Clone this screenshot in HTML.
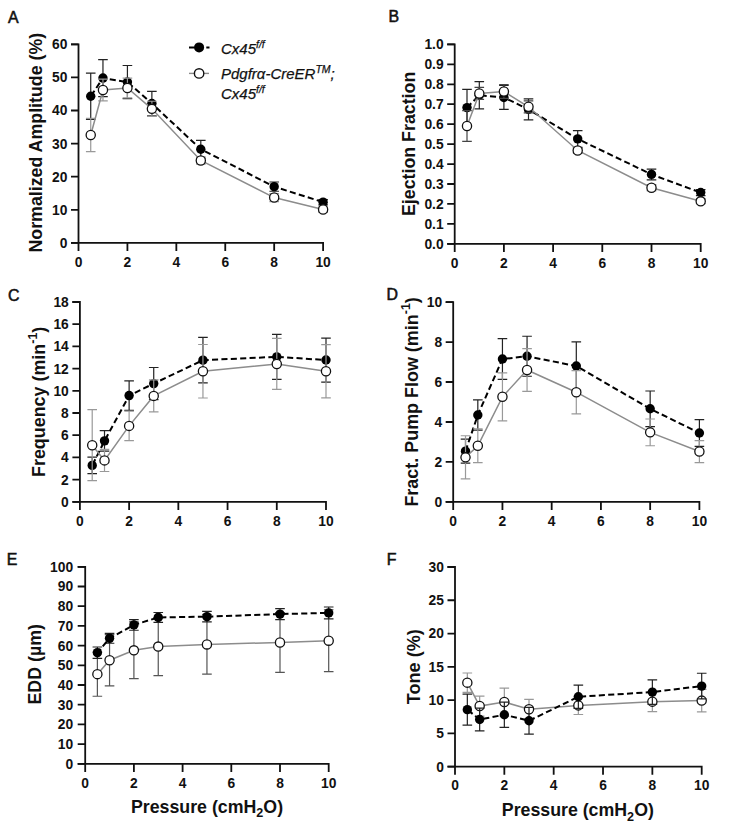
<!DOCTYPE html><html><head><meta charset="utf-8"><style>html,body{margin:0;padding:0;background:#fff;}svg{display:block;}text{font-family:"Liberation Sans", sans-serif;}</style></head><body>
<svg width="748" height="839" viewBox="0 0 748 839">
<rect width="748" height="839" fill="#fff"/>
<path d="M71.00,44.30H78.50V251.10M71.00,242.90H323.10V251.10" fill="none" stroke="#111" stroke-width="1.8" stroke-linejoin="miter"/>
<path d="M71.00,242.90H78.50M71.00,209.80H78.50M71.00,176.70H78.50M71.00,143.60H78.50M71.00,110.50H78.50M71.00,77.40H78.50M71.00,44.30H78.50M127.42,242.90V251.10M176.34,242.90V251.10M225.26,242.90V251.10M274.18,242.90V251.10" fill="none" stroke="#111" stroke-width="1.8"/>
<text x="67.40" y="247.80" text-anchor="end" font-size="13.8" font-weight="bold" fill="#111">0</text>
<text x="67.40" y="214.70" text-anchor="end" font-size="13.8" font-weight="bold" fill="#111">10</text>
<text x="67.40" y="181.60" text-anchor="end" font-size="13.8" font-weight="bold" fill="#111">20</text>
<text x="67.40" y="148.50" text-anchor="end" font-size="13.8" font-weight="bold" fill="#111">30</text>
<text x="67.40" y="115.40" text-anchor="end" font-size="13.8" font-weight="bold" fill="#111">40</text>
<text x="67.40" y="82.30" text-anchor="end" font-size="13.8" font-weight="bold" fill="#111">50</text>
<text x="67.40" y="49.20" text-anchor="end" font-size="13.8" font-weight="bold" fill="#111">60</text>
<text x="78.50" y="266.60" text-anchor="middle" font-size="13.8" font-weight="bold" fill="#111">0</text>
<text x="127.42" y="266.60" text-anchor="middle" font-size="13.8" font-weight="bold" fill="#111">2</text>
<text x="176.34" y="266.60" text-anchor="middle" font-size="13.8" font-weight="bold" fill="#111">4</text>
<text x="225.26" y="266.60" text-anchor="middle" font-size="13.8" font-weight="bold" fill="#111">6</text>
<text x="274.18" y="266.60" text-anchor="middle" font-size="13.8" font-weight="bold" fill="#111">8</text>
<text x="323.10" y="266.60" text-anchor="middle" font-size="13.8" font-weight="bold" fill="#111">10</text>
<path d="M90.73,73.10V119.44M85.93,73.10H95.53M85.93,119.44H95.53M102.96,59.53V96.60M98.16,59.53H107.76M98.16,96.60H107.76M127.42,65.48V98.58M122.62,65.48H132.22M122.62,98.58H132.22M151.88,91.30V115.80M147.08,91.30H156.68M147.08,115.80H156.68M200.80,140.29V158.16M196.00,140.29H205.60M196.00,158.16H205.60M274.18,182.00V191.26M269.38,182.00H278.98M269.38,191.26H278.98M323.10,199.54V204.84M318.30,199.54H327.90M318.30,204.84H327.90" fill="none" stroke="#222" stroke-width="1.2"/>
<path d="M90.73,96.27 L102.96,78.06 L127.42,82.03 L151.88,103.55 L200.80,149.23 L274.18,186.63 L323.10,202.19" stroke="#000" stroke-width="2" stroke-dasharray="6.1 3.30" stroke-dashoffset="8.78" fill="none"/>
<circle cx="90.73" cy="96.27" r="4.7" fill="#000"/>
<circle cx="102.96" cy="78.06" r="4.7" fill="#000"/>
<circle cx="127.42" cy="82.03" r="4.7" fill="#000"/>
<circle cx="151.88" cy="103.55" r="4.7" fill="#000"/>
<circle cx="200.80" cy="149.23" r="4.7" fill="#000"/>
<circle cx="274.18" cy="186.63" r="4.7" fill="#000"/>
<circle cx="323.10" cy="202.19" r="4.7" fill="#000"/>
<path d="M90.73,118.44V151.54M85.93,118.44H95.53M85.93,151.54H95.53M102.96,79.06V100.90M98.16,79.06H107.76M98.16,100.90H107.76M127.42,78.06V97.92M122.62,78.06H132.22M122.62,97.92H132.22M151.88,101.23V116.46M147.08,101.23H156.68M147.08,116.46H156.68M200.80,156.84V164.12M196.00,156.84H205.60M196.00,164.12H205.60M274.18,193.58V201.53M269.38,193.58H278.98M269.38,201.53H278.98M323.10,206.82V212.12M318.30,206.82H327.90M318.30,212.12H327.90" fill="none" stroke="#999" stroke-width="1.2"/>
<polyline points="90.73,134.99 102.96,89.98 127.42,87.99 151.88,108.84 200.80,160.48 274.18,197.55 323.10,209.47" fill="none" stroke="#8c8c8c" stroke-width="1.5"/>
<circle cx="90.73" cy="134.99" r="4.6" fill="#fff" stroke="#111" stroke-width="1.3"/>
<circle cx="102.96" cy="89.98" r="4.6" fill="#fff" stroke="#111" stroke-width="1.3"/>
<circle cx="127.42" cy="87.99" r="4.6" fill="#fff" stroke="#111" stroke-width="1.3"/>
<circle cx="151.88" cy="108.84" r="4.6" fill="#fff" stroke="#111" stroke-width="1.3"/>
<circle cx="200.80" cy="160.48" r="4.6" fill="#fff" stroke="#111" stroke-width="1.3"/>
<circle cx="274.18" cy="197.55" r="4.6" fill="#fff" stroke="#111" stroke-width="1.3"/>
<circle cx="323.10" cy="209.47" r="4.6" fill="#fff" stroke="#111" stroke-width="1.3"/>
<path d="M447.20,44.40H454.70V252.00M447.20,243.80H700.70V252.00" fill="none" stroke="#111" stroke-width="1.8" stroke-linejoin="miter"/>
<path d="M447.20,243.80H454.70M447.20,223.86H454.70M447.20,203.92H454.70M447.20,183.98H454.70M447.20,164.04H454.70M447.20,144.10H454.70M447.20,124.16H454.70M447.20,104.22H454.70M447.20,84.28H454.70M447.20,64.34H454.70M447.20,44.40H454.70M503.90,243.80V252.00M553.10,243.80V252.00M602.30,243.80V252.00M651.50,243.80V252.00" fill="none" stroke="#111" stroke-width="1.8"/>
<text x="443.60" y="248.70" text-anchor="end" font-size="13.8" font-weight="bold" fill="#111">0.0</text>
<text x="443.60" y="228.76" text-anchor="end" font-size="13.8" font-weight="bold" fill="#111">0.1</text>
<text x="443.60" y="208.82" text-anchor="end" font-size="13.8" font-weight="bold" fill="#111">0.2</text>
<text x="443.60" y="188.88" text-anchor="end" font-size="13.8" font-weight="bold" fill="#111">0.3</text>
<text x="443.60" y="168.94" text-anchor="end" font-size="13.8" font-weight="bold" fill="#111">0.4</text>
<text x="443.60" y="149.00" text-anchor="end" font-size="13.8" font-weight="bold" fill="#111">0.5</text>
<text x="443.60" y="129.06" text-anchor="end" font-size="13.8" font-weight="bold" fill="#111">0.6</text>
<text x="443.60" y="109.12" text-anchor="end" font-size="13.8" font-weight="bold" fill="#111">0.7</text>
<text x="443.60" y="89.18" text-anchor="end" font-size="13.8" font-weight="bold" fill="#111">0.8</text>
<text x="443.60" y="69.24" text-anchor="end" font-size="13.8" font-weight="bold" fill="#111">0.9</text>
<text x="443.60" y="49.30" text-anchor="end" font-size="13.8" font-weight="bold" fill="#111">1.0</text>
<text x="454.70" y="267.50" text-anchor="middle" font-size="13.8" font-weight="bold" fill="#111">0</text>
<text x="503.90" y="267.50" text-anchor="middle" font-size="13.8" font-weight="bold" fill="#111">2</text>
<text x="553.10" y="267.50" text-anchor="middle" font-size="13.8" font-weight="bold" fill="#111">4</text>
<text x="602.30" y="267.50" text-anchor="middle" font-size="13.8" font-weight="bold" fill="#111">6</text>
<text x="651.50" y="267.50" text-anchor="middle" font-size="13.8" font-weight="bold" fill="#111">8</text>
<text x="700.70" y="267.50" text-anchor="middle" font-size="13.8" font-weight="bold" fill="#111">10</text>
<path d="M467.00,89.46V125.76M462.20,89.46H471.80M462.20,125.76H471.80M479.30,81.69V108.81M474.50,81.69H484.10M474.50,108.81H484.10M503.90,85.48V109.40M499.10,85.48H508.70M499.10,109.40H508.70M528.50,98.84V119.97M523.70,98.84H533.30M523.70,119.97H533.30M577.70,130.54V147.29M572.90,130.54H582.50M572.90,147.29H582.50M651.50,169.03V179.79M646.70,169.03H656.30M646.70,179.79H656.30M700.70,189.56V195.55M695.90,189.56H705.50M695.90,195.55H705.50" fill="none" stroke="#222" stroke-width="1.2"/>
<path d="M467.00,107.61 L479.30,95.25 L503.90,97.44 L528.50,109.40 L577.70,138.92 L651.50,174.41 L700.70,192.55" stroke="#000" stroke-width="2" stroke-dasharray="6.1 3.30" stroke-dashoffset="0.04" fill="none"/>
<circle cx="467.00" cy="107.61" r="4.7" fill="#000"/>
<circle cx="479.30" cy="95.25" r="4.7" fill="#000"/>
<circle cx="503.90" cy="97.44" r="4.7" fill="#000"/>
<circle cx="528.50" cy="109.40" r="4.7" fill="#000"/>
<circle cx="577.70" cy="138.92" r="4.7" fill="#000"/>
<circle cx="651.50" cy="174.41" r="4.7" fill="#000"/>
<circle cx="700.70" cy="192.55" r="4.7" fill="#000"/>
<path d="M467.00,110.60V141.31M462.20,110.60H471.80M462.20,141.31H471.80M479.30,87.47V99.43M474.50,87.47H484.10M474.50,99.43H484.10M503.90,84.48V98.44M499.10,84.48H508.70M499.10,98.44H508.70M528.50,100.83V112.79M523.70,100.83H533.30M523.70,112.79H533.30M577.70,148.09V152.87M572.90,148.09H582.50M572.90,152.87H582.50M651.50,184.78V190.76M646.70,184.78H656.30M646.70,190.76H656.30M700.70,198.94V203.72M695.90,198.94H705.50M695.90,203.72H705.50" fill="none" stroke="#444" stroke-width="1.2"/>
<polyline points="467.00,125.95 479.30,93.45 503.90,91.46 528.50,106.81 577.70,150.48 651.50,187.77 700.70,201.33" fill="none" stroke="#8c8c8c" stroke-width="1.5"/>
<circle cx="467.00" cy="125.95" r="4.6" fill="#fff" stroke="#111" stroke-width="1.3"/>
<circle cx="479.30" cy="93.45" r="4.6" fill="#fff" stroke="#111" stroke-width="1.3"/>
<circle cx="503.90" cy="91.46" r="4.6" fill="#fff" stroke="#111" stroke-width="1.3"/>
<circle cx="528.50" cy="106.81" r="4.6" fill="#fff" stroke="#111" stroke-width="1.3"/>
<circle cx="577.70" cy="150.48" r="4.6" fill="#fff" stroke="#111" stroke-width="1.3"/>
<circle cx="651.50" cy="187.77" r="4.6" fill="#fff" stroke="#111" stroke-width="1.3"/>
<circle cx="700.70" cy="201.33" r="4.6" fill="#fff" stroke="#111" stroke-width="1.3"/>
<path d="M72.40,302.00H79.90V510.00M72.40,501.80H326.00V510.00" fill="none" stroke="#111" stroke-width="1.8" stroke-linejoin="miter"/>
<path d="M72.40,501.80H79.90M72.40,479.60H79.90M72.40,457.40H79.90M72.40,435.20H79.90M72.40,413.00H79.90M72.40,390.80H79.90M72.40,368.60H79.90M72.40,346.40H79.90M72.40,324.20H79.90M72.40,302.00H79.90M129.12,501.80V510.00M178.34,501.80V510.00M227.56,501.80V510.00M276.78,501.80V510.00" fill="none" stroke="#111" stroke-width="1.8"/>
<text x="68.80" y="506.70" text-anchor="end" font-size="13.8" font-weight="bold" fill="#111">0</text>
<text x="68.80" y="484.50" text-anchor="end" font-size="13.8" font-weight="bold" fill="#111">2</text>
<text x="68.80" y="462.30" text-anchor="end" font-size="13.8" font-weight="bold" fill="#111">4</text>
<text x="68.80" y="440.10" text-anchor="end" font-size="13.8" font-weight="bold" fill="#111">6</text>
<text x="68.80" y="417.90" text-anchor="end" font-size="13.8" font-weight="bold" fill="#111">8</text>
<text x="68.80" y="395.70" text-anchor="end" font-size="13.8" font-weight="bold" fill="#111">10</text>
<text x="68.80" y="373.50" text-anchor="end" font-size="13.8" font-weight="bold" fill="#111">12</text>
<text x="68.80" y="351.30" text-anchor="end" font-size="13.8" font-weight="bold" fill="#111">14</text>
<text x="68.80" y="329.10" text-anchor="end" font-size="13.8" font-weight="bold" fill="#111">16</text>
<text x="68.80" y="306.90" text-anchor="end" font-size="13.8" font-weight="bold" fill="#111">18</text>
<text x="79.90" y="525.50" text-anchor="middle" font-size="13.8" font-weight="bold" fill="#111">0</text>
<text x="129.12" y="525.50" text-anchor="middle" font-size="13.8" font-weight="bold" fill="#111">2</text>
<text x="178.34" y="525.50" text-anchor="middle" font-size="13.8" font-weight="bold" fill="#111">4</text>
<text x="227.56" y="525.50" text-anchor="middle" font-size="13.8" font-weight="bold" fill="#111">6</text>
<text x="276.78" y="525.50" text-anchor="middle" font-size="13.8" font-weight="bold" fill="#111">8</text>
<text x="326.00" y="525.50" text-anchor="middle" font-size="13.8" font-weight="bold" fill="#111">10</text>
<path d="M92.21,457.07V473.72M87.41,457.07H97.01M87.41,473.72H97.01M104.51,430.54V451.18M99.71,430.54H109.31M99.71,451.18H109.31M129.12,380.81V410.34M124.32,380.81H133.92M124.32,410.34H133.92M153.73,367.49V399.68M148.93,367.49H158.53M148.93,399.68H158.53M202.95,337.41V382.92M198.15,337.41H207.75M198.15,382.92H207.75M276.78,334.30V379.37M271.98,334.30H281.58M271.98,379.37H281.58M326.00,338.07V382.03M321.20,338.07H330.80M321.20,382.03H330.80" fill="none" stroke="#222" stroke-width="1.2"/>
<path d="M92.21,465.39 L104.51,440.86 L129.12,395.57 L153.73,383.58 L202.95,360.16 L276.78,356.83 L326.00,360.05" stroke="#000" stroke-width="2" stroke-dasharray="6.1 3.30" stroke-dashoffset="8.67" fill="none"/>
<circle cx="92.21" cy="465.39" r="4.7" fill="#000"/>
<circle cx="104.51" cy="440.86" r="4.7" fill="#000"/>
<circle cx="129.12" cy="395.57" r="4.7" fill="#000"/>
<circle cx="153.73" cy="383.58" r="4.7" fill="#000"/>
<circle cx="202.95" cy="360.16" r="4.7" fill="#000"/>
<circle cx="276.78" cy="356.83" r="4.7" fill="#000"/>
<circle cx="326.00" cy="360.05" r="4.7" fill="#000"/>
<path d="M92.21,409.67V480.71M87.41,409.67H97.01M87.41,480.71H97.01M104.51,449.30V471.50M99.71,449.30H109.31M99.71,471.50H109.31M129.12,411.11V440.64M124.32,411.11H133.92M124.32,440.64H133.92M153.73,379.92V411.89M148.93,379.92H158.53M148.93,411.89H158.53M202.95,344.51V398.01M198.15,344.51H207.75M198.15,398.01H207.75M276.78,338.41V389.47M271.98,338.41H281.58M271.98,389.47H281.58M326.00,344.62V397.90M321.20,344.62H330.80M321.20,397.90H330.80" fill="none" stroke="#999" stroke-width="1.2"/>
<polyline points="92.21,445.19 104.51,460.40 129.12,425.88 153.73,395.91 202.95,371.26 276.78,363.94 326.00,371.26" fill="none" stroke="#8c8c8c" stroke-width="1.5"/>
<circle cx="92.21" cy="445.19" r="4.6" fill="#fff" stroke="#111" stroke-width="1.3"/>
<circle cx="104.51" cy="460.40" r="4.6" fill="#fff" stroke="#111" stroke-width="1.3"/>
<circle cx="129.12" cy="425.88" r="4.6" fill="#fff" stroke="#111" stroke-width="1.3"/>
<circle cx="153.73" cy="395.91" r="4.6" fill="#fff" stroke="#111" stroke-width="1.3"/>
<circle cx="202.95" cy="371.26" r="4.6" fill="#fff" stroke="#111" stroke-width="1.3"/>
<circle cx="276.78" cy="363.94" r="4.6" fill="#fff" stroke="#111" stroke-width="1.3"/>
<circle cx="326.00" cy="371.26" r="4.6" fill="#fff" stroke="#111" stroke-width="1.3"/>
<path d="M445.70,302.10H453.20V510.10M445.70,501.90H699.40V510.10" fill="none" stroke="#111" stroke-width="1.8" stroke-linejoin="miter"/>
<path d="M445.70,501.90H453.20M445.70,461.94H453.20M445.70,421.98H453.20M445.70,382.02H453.20M445.70,342.06H453.20M445.70,302.10H453.20M502.44,501.90V510.10M551.68,501.90V510.10M600.92,501.90V510.10M650.16,501.90V510.10" fill="none" stroke="#111" stroke-width="1.8"/>
<text x="442.10" y="506.80" text-anchor="end" font-size="13.8" font-weight="bold" fill="#111">0</text>
<text x="442.10" y="466.84" text-anchor="end" font-size="13.8" font-weight="bold" fill="#111">2</text>
<text x="442.10" y="426.88" text-anchor="end" font-size="13.8" font-weight="bold" fill="#111">4</text>
<text x="442.10" y="386.92" text-anchor="end" font-size="13.8" font-weight="bold" fill="#111">6</text>
<text x="442.10" y="346.96" text-anchor="end" font-size="13.8" font-weight="bold" fill="#111">8</text>
<text x="442.10" y="307.00" text-anchor="end" font-size="13.8" font-weight="bold" fill="#111">10</text>
<text x="453.20" y="525.60" text-anchor="middle" font-size="13.8" font-weight="bold" fill="#111">0</text>
<text x="502.44" y="525.60" text-anchor="middle" font-size="13.8" font-weight="bold" fill="#111">2</text>
<text x="551.68" y="525.60" text-anchor="middle" font-size="13.8" font-weight="bold" fill="#111">4</text>
<text x="600.92" y="525.60" text-anchor="middle" font-size="13.8" font-weight="bold" fill="#111">6</text>
<text x="650.16" y="525.60" text-anchor="middle" font-size="13.8" font-weight="bold" fill="#111">8</text>
<text x="699.40" y="525.60" text-anchor="middle" font-size="13.8" font-weight="bold" fill="#111">10</text>
<path d="M465.51,439.16V463.14M460.71,439.16H470.31M460.71,463.14H470.31M477.82,399.80V430.17M473.02,399.80H482.62M473.02,430.17H482.62M502.44,338.66V379.42M497.64,338.66H507.24M497.64,379.42H507.24M527.06,336.27V376.23M522.26,336.27H531.86M522.26,376.23H531.86M576.30,341.86V390.21M571.50,341.86H581.10M571.50,390.21H581.10M650.16,391.01V426.58M645.36,391.01H654.96M645.36,426.58H654.96M699.40,419.58V446.36M694.60,419.58H704.20M694.60,446.36H704.20" fill="none" stroke="#222" stroke-width="1.2"/>
<path d="M465.51,451.15 L477.82,414.99 L502.44,359.04 L527.06,356.25 L576.30,366.04 L650.16,408.79 L699.40,432.97" stroke="#000" stroke-width="2" stroke-dasharray="6.1 3.30" stroke-dashoffset="0.03" fill="none"/>
<circle cx="465.51" cy="451.15" r="4.7" fill="#000"/>
<circle cx="477.82" cy="414.99" r="4.7" fill="#000"/>
<circle cx="502.44" cy="359.04" r="4.7" fill="#000"/>
<circle cx="527.06" cy="356.25" r="4.7" fill="#000"/>
<circle cx="576.30" cy="366.04" r="4.7" fill="#000"/>
<circle cx="650.16" cy="408.79" r="4.7" fill="#000"/>
<circle cx="699.40" cy="432.97" r="4.7" fill="#000"/>
<path d="M465.51,435.77V478.92M460.71,435.77H470.31M460.71,478.92H470.31M477.82,428.97V462.54M473.02,428.97H482.62M473.02,462.54H482.62M502.44,372.83V420.78M497.64,372.83H507.24M497.64,420.78H507.24M527.06,348.65V391.41M522.26,348.65H531.86M522.26,391.41H531.86M576.30,370.63V413.79M571.50,370.63H581.10M571.50,413.79H581.10M650.16,418.98V445.76M645.36,418.98H654.96M645.36,445.76H654.96M699.40,440.56V462.54M694.60,440.56H704.20M694.60,462.54H704.20" fill="none" stroke="#999" stroke-width="1.2"/>
<polyline points="465.51,457.34 477.82,445.76 502.44,396.81 527.06,370.03 576.30,392.21 650.16,432.37 699.40,451.55" fill="none" stroke="#8c8c8c" stroke-width="1.5"/>
<circle cx="465.51" cy="457.34" r="4.6" fill="#fff" stroke="#111" stroke-width="1.3"/>
<circle cx="477.82" cy="445.76" r="4.6" fill="#fff" stroke="#111" stroke-width="1.3"/>
<circle cx="502.44" cy="396.81" r="4.6" fill="#fff" stroke="#111" stroke-width="1.3"/>
<circle cx="527.06" cy="370.03" r="4.6" fill="#fff" stroke="#111" stroke-width="1.3"/>
<circle cx="576.30" cy="392.21" r="4.6" fill="#fff" stroke="#111" stroke-width="1.3"/>
<circle cx="650.16" cy="432.37" r="4.6" fill="#fff" stroke="#111" stroke-width="1.3"/>
<circle cx="699.40" cy="451.55" r="4.6" fill="#fff" stroke="#111" stroke-width="1.3"/>
<path d="M77.70,566.80H85.20V772.00M77.70,763.80H328.70V772.00" fill="none" stroke="#111" stroke-width="1.8" stroke-linejoin="miter"/>
<path d="M77.70,763.80H85.20M77.70,744.10H85.20M77.70,724.40H85.20M77.70,704.70H85.20M77.70,685.00H85.20M77.70,665.30H85.20M77.70,645.60H85.20M77.70,625.90H85.20M77.70,606.20H85.20M77.70,586.50H85.20M77.70,566.80H85.20M133.90,763.80V772.00M182.60,763.80V772.00M231.30,763.80V772.00M280.00,763.80V772.00" fill="none" stroke="#111" stroke-width="1.8"/>
<text x="73.10" y="768.70" text-anchor="end" font-size="13.8" font-weight="bold" fill="#111">0</text>
<text x="73.10" y="749.00" text-anchor="end" font-size="13.8" font-weight="bold" fill="#111">10</text>
<text x="73.10" y="729.30" text-anchor="end" font-size="13.8" font-weight="bold" fill="#111">20</text>
<text x="73.10" y="709.60" text-anchor="end" font-size="13.8" font-weight="bold" fill="#111">30</text>
<text x="73.10" y="689.90" text-anchor="end" font-size="13.8" font-weight="bold" fill="#111">40</text>
<text x="73.10" y="670.20" text-anchor="end" font-size="13.8" font-weight="bold" fill="#111">50</text>
<text x="73.10" y="650.50" text-anchor="end" font-size="13.8" font-weight="bold" fill="#111">60</text>
<text x="73.10" y="630.80" text-anchor="end" font-size="13.8" font-weight="bold" fill="#111">70</text>
<text x="73.10" y="611.10" text-anchor="end" font-size="13.8" font-weight="bold" fill="#111">80</text>
<text x="73.10" y="591.40" text-anchor="end" font-size="13.8" font-weight="bold" fill="#111">90</text>
<text x="73.10" y="571.70" text-anchor="end" font-size="13.8" font-weight="bold" fill="#111">100</text>
<text x="85.20" y="787.50" text-anchor="middle" font-size="13.8" font-weight="bold" fill="#111">0</text>
<text x="133.90" y="787.50" text-anchor="middle" font-size="13.8" font-weight="bold" fill="#111">2</text>
<text x="182.60" y="787.50" text-anchor="middle" font-size="13.8" font-weight="bold" fill="#111">4</text>
<text x="231.30" y="787.50" text-anchor="middle" font-size="13.8" font-weight="bold" fill="#111">6</text>
<text x="280.00" y="787.50" text-anchor="middle" font-size="13.8" font-weight="bold" fill="#111">8</text>
<text x="328.70" y="787.50" text-anchor="middle" font-size="13.8" font-weight="bold" fill="#111">10</text>
<path d="M97.38,652.10V696.23M92.58,652.10H102.17M92.58,696.23H102.17M109.55,634.57V685.79M104.75,634.57H114.35M104.75,685.79H114.35M133.90,621.96V678.70M129.10,621.96H138.70M129.10,678.70H138.70M158.25,617.63V675.54M153.45,617.63H163.05M153.45,675.54H163.05M206.95,614.67V674.16M202.15,614.67H211.75M202.15,674.16H211.75M280.00,612.50V672.39M275.20,612.50H284.80M275.20,672.39H284.80M328.70,609.75V671.60M323.90,609.75H333.50M323.90,671.60H333.50" fill="none" stroke="#555" stroke-width="1.2"/>
<polyline points="97.38,674.16 109.55,660.18 133.90,650.33 158.25,646.58 206.95,644.42 280.00,642.45 328.70,640.67" fill="none" stroke="#8c8c8c" stroke-width="1.5"/>
<circle cx="97.38" cy="674.16" r="4.6" fill="#fff" stroke="#111" stroke-width="1.3"/>
<circle cx="109.55" cy="660.18" r="4.6" fill="#fff" stroke="#111" stroke-width="1.3"/>
<circle cx="133.90" cy="650.33" r="4.6" fill="#fff" stroke="#111" stroke-width="1.3"/>
<circle cx="158.25" cy="646.58" r="4.6" fill="#fff" stroke="#111" stroke-width="1.3"/>
<circle cx="206.95" cy="644.42" r="4.6" fill="#fff" stroke="#111" stroke-width="1.3"/>
<circle cx="280.00" cy="642.45" r="4.6" fill="#fff" stroke="#111" stroke-width="1.3"/>
<circle cx="328.70" cy="640.67" r="4.6" fill="#fff" stroke="#111" stroke-width="1.3"/>
<path d="M97.38,646.98V658.40M92.58,646.98H102.17M92.58,658.40H102.17M109.55,633.39V643.24M104.75,633.39H114.35M104.75,643.24H114.35M133.90,619.60V630.23M129.10,619.60H138.70M129.10,630.23H138.70M158.25,612.50V622.35M153.45,612.50H163.05M153.45,622.35H163.05M206.95,611.32V621.96M202.15,611.32H211.75M202.15,621.96H211.75M280.00,608.56V619.60M275.20,608.56H284.80M275.20,619.60H284.80M328.70,606.99V618.81M323.90,606.99H333.50M323.90,618.81H333.50" fill="none" stroke="#222" stroke-width="1.2"/>
<path d="M97.38,652.69 L109.55,638.31 L133.90,624.91 L158.25,617.43 L206.95,616.64 L280.00,614.08 L328.70,612.90" stroke="#000" stroke-width="2" stroke-dasharray="6.1 3.30" stroke-dashoffset="1.08" fill="none"/>
<circle cx="97.38" cy="652.69" r="4.7" fill="#000"/>
<circle cx="109.55" cy="638.31" r="4.7" fill="#000"/>
<circle cx="133.90" cy="624.91" r="4.7" fill="#000"/>
<circle cx="158.25" cy="617.43" r="4.7" fill="#000"/>
<circle cx="206.95" cy="616.64" r="4.7" fill="#000"/>
<circle cx="280.00" cy="614.08" r="4.7" fill="#000"/>
<circle cx="328.70" cy="612.90" r="4.7" fill="#000"/>
<path d="M447.50,567.00H455.00V774.80M447.50,766.60H701.70V774.80" fill="none" stroke="#111" stroke-width="1.8" stroke-linejoin="miter"/>
<path d="M447.50,766.60H455.00M447.50,733.33H455.00M447.50,700.07H455.00M447.50,666.80H455.00M447.50,633.53H455.00M447.50,600.27H455.00M447.50,567.00H455.00M504.34,766.60V774.80M553.68,766.60V774.80M603.02,766.60V774.80M652.36,766.60V774.80" fill="none" stroke="#111" stroke-width="1.8"/>
<text x="443.90" y="771.50" text-anchor="end" font-size="13.8" font-weight="bold" fill="#111">0</text>
<text x="443.90" y="738.23" text-anchor="end" font-size="13.8" font-weight="bold" fill="#111">5</text>
<text x="443.90" y="704.97" text-anchor="end" font-size="13.8" font-weight="bold" fill="#111">10</text>
<text x="443.90" y="671.70" text-anchor="end" font-size="13.8" font-weight="bold" fill="#111">15</text>
<text x="443.90" y="638.43" text-anchor="end" font-size="13.8" font-weight="bold" fill="#111">20</text>
<text x="443.90" y="605.17" text-anchor="end" font-size="13.8" font-weight="bold" fill="#111">25</text>
<text x="443.90" y="571.90" text-anchor="end" font-size="13.8" font-weight="bold" fill="#111">30</text>
<text x="455.00" y="790.30" text-anchor="middle" font-size="13.8" font-weight="bold" fill="#111">0</text>
<text x="504.34" y="790.30" text-anchor="middle" font-size="13.8" font-weight="bold" fill="#111">2</text>
<text x="553.68" y="790.30" text-anchor="middle" font-size="13.8" font-weight="bold" fill="#111">4</text>
<text x="603.02" y="790.30" text-anchor="middle" font-size="13.8" font-weight="bold" fill="#111">6</text>
<text x="652.36" y="790.30" text-anchor="middle" font-size="13.8" font-weight="bold" fill="#111">8</text>
<text x="701.70" y="790.30" text-anchor="middle" font-size="13.8" font-weight="bold" fill="#111">10</text>
<path d="M467.33,672.99V692.28M462.53,672.99H472.13M462.53,692.28H472.13M479.67,696.07V716.03M474.87,696.07H484.47M474.87,716.03H484.47M504.34,688.09V716.03M499.54,688.09H509.14M499.54,716.03H509.14M529.01,699.40V718.96M524.21,699.40H533.81M524.21,718.96H533.81M578.35,696.27V714.50M573.55,696.27H583.15M573.55,714.50H583.15M652.36,691.68V711.64M647.56,691.68H657.16M647.56,711.64H657.16M701.70,689.29V711.91M696.90,689.29H706.50M696.90,711.91H706.50" fill="none" stroke="#999" stroke-width="1.2"/>
<polyline points="467.33,682.63 479.67,706.05 504.34,702.06 529.01,709.18 578.35,705.39 652.36,701.66 701.70,700.60" fill="none" stroke="#8c8c8c" stroke-width="1.5"/>
<circle cx="467.33" cy="682.63" r="4.6" fill="#fff" stroke="#111" stroke-width="1.3"/>
<circle cx="479.67" cy="706.05" r="4.6" fill="#fff" stroke="#111" stroke-width="1.3"/>
<circle cx="504.34" cy="702.06" r="4.6" fill="#fff" stroke="#111" stroke-width="1.3"/>
<circle cx="529.01" cy="709.18" r="4.6" fill="#fff" stroke="#111" stroke-width="1.3"/>
<circle cx="578.35" cy="705.39" r="4.6" fill="#fff" stroke="#111" stroke-width="1.3"/>
<circle cx="652.36" cy="701.66" r="4.6" fill="#fff" stroke="#111" stroke-width="1.3"/>
<circle cx="701.70" cy="700.60" r="4.6" fill="#fff" stroke="#111" stroke-width="1.3"/>
<path d="M467.33,694.15V725.15M462.53,694.15H472.13M462.53,725.15H472.13M479.67,708.18V730.81M474.87,708.18H484.47M474.87,730.81H484.47M504.34,702.13V727.41M499.54,702.13H509.14M499.54,727.41H509.14M529.01,707.45V734.07M524.21,707.45H533.81M524.21,734.07H533.81M578.35,685.16V708.32M573.55,685.16H583.15M573.55,708.32H583.15M652.36,679.84V704.32M647.56,679.84H657.16M647.56,704.32H657.16M701.70,673.25V698.94M696.90,673.25H706.50M696.90,698.94H706.50" fill="none" stroke="#222" stroke-width="1.2"/>
<path d="M467.33,709.65 L479.67,719.49 L504.34,714.77 L529.01,720.76 L578.35,696.74 L652.36,692.08 L701.70,686.09" stroke="#000" stroke-width="2" stroke-dasharray="6.1 3.30" stroke-dashoffset="8.74" fill="none"/>
<circle cx="467.33" cy="709.65" r="4.7" fill="#000"/>
<circle cx="479.67" cy="719.49" r="4.7" fill="#000"/>
<circle cx="504.34" cy="714.77" r="4.7" fill="#000"/>
<circle cx="529.01" cy="720.76" r="4.7" fill="#000"/>
<circle cx="578.35" cy="696.74" r="4.7" fill="#000"/>
<circle cx="652.36" cy="692.08" r="4.7" fill="#000"/>
<circle cx="701.70" cy="686.09" r="4.7" fill="#000"/>
<text x="8.10" y="23.40" font-size="15.9" font-weight="normal" fill="#111" stroke="#111" stroke-width="0.55">A</text>
<text x="388.40" y="21.80" font-size="15.9" font-weight="normal" fill="#111" stroke="#111" stroke-width="0.55">B</text>
<text x="8.00" y="301.30" font-size="15.9" font-weight="normal" fill="#111" stroke="#111" stroke-width="0.55">C</text>
<text x="386.50" y="299.80" font-size="15.9" font-weight="normal" fill="#111" stroke="#111" stroke-width="0.55">D</text>
<text x="6.80" y="565.00" font-size="15.9" font-weight="normal" fill="#111" stroke="#111" stroke-width="0.55">E</text>
<text x="386.70" y="565.00" font-size="15.9" font-weight="normal" fill="#111" stroke="#111" stroke-width="0.55">F</text>
<text transform="translate(41.50,252.50) rotate(-90)" x="0" y="0" font-size="17.8" font-weight="bold" fill="#111">Normalized Amplitude (%)</text>
<text transform="translate(414.50,216.00) rotate(-90)" x="0" y="0" font-size="17.8" font-weight="bold" fill="#111">Ejection Fraction</text>
<text transform="translate(44.50,477.00) rotate(-90)" x="0" y="0" font-size="17.9" font-weight="bold" fill="#111">Frequency (min<tspan dy="-7.5" font-size="12.5">-1</tspan><tspan dy="7.5">)</tspan></text>
<text transform="translate(417.50,506.60) rotate(-90)" x="0" y="0" font-size="17.95" font-weight="bold" fill="#111">Fract. Pump Flow (min<tspan dy="-7.5" font-size="12.5">-1</tspan><tspan dy="7.5">)</tspan></text>
<text transform="translate(41.30,704.50) rotate(-90)" x="0" y="0" font-size="17.8" font-weight="bold" fill="#111">EDD (µm)</text>
<text transform="translate(419.70,704.20) rotate(-90)" x="0" y="0" font-size="18.1" font-weight="bold" fill="#111">Tone (%)</text>
<text x="131.00" y="812.80" font-size="17.75" font-weight="bold" fill="#111">Pressure (cmH<tspan dy="4.6" font-size="12.6">2</tspan><tspan dy="-4.6">O)</tspan></text>
<text x="501.80" y="815.90" font-size="17.75" font-weight="bold" fill="#111">Pressure (cmH<tspan dy="4.6" font-size="12.6">2</tspan><tspan dy="-4.6">O)</tspan></text>
<path d="M189,47.4H196M206.3,47.4H209.5" stroke="#000" stroke-width="2"/>
<circle cx="199.1" cy="47.4" r="5.0" fill="#000"/>
<text x="221" y="53.5" font-size="15" font-style="italic" fill="#111" stroke="#111" stroke-width="0.25">Cx45<tspan dy="-6" font-size="10.5">f/f</tspan></text>
<path d="M189,73.4H209" stroke="#8a8a8a" stroke-width="1.4"/>
<circle cx="199.1" cy="73.4" r="4.7" fill="#fff" stroke="#111" stroke-width="1.4"/>
<text x="221" y="79.3" font-size="15" font-style="italic" fill="#111" stroke="#111" stroke-width="0.25">Pdgfrα-CreER<tspan dy="-6" font-size="10.5">TM</tspan><tspan dy="6">;</tspan></text>
<text x="221" y="99.1" font-size="15" font-style="italic" fill="#111" stroke="#111" stroke-width="0.25">Cx45<tspan dy="-6" font-size="10.5">f/f</tspan></text>
</svg></body></html>
